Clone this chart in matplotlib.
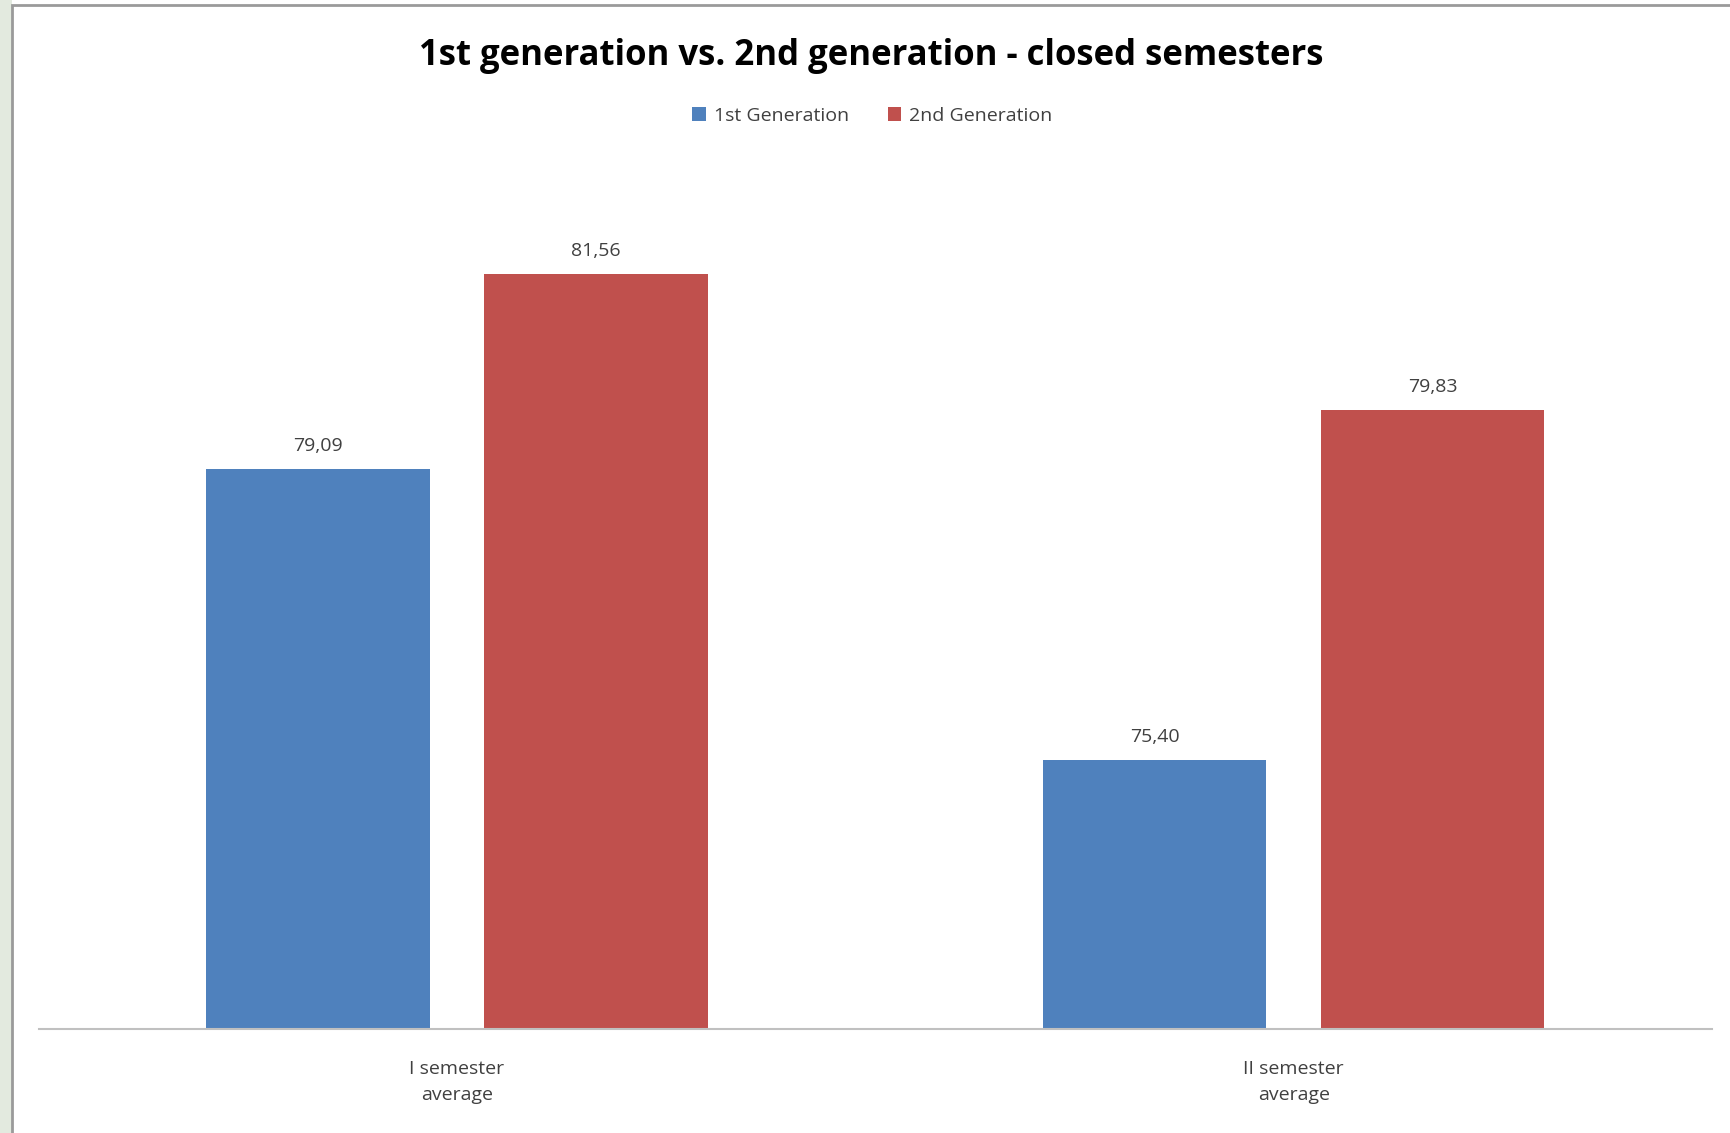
import matplotlib
matplotlib.use("Agg")
import matplotlib.pyplot as plt
import numpy as np
from matplotlib.patches import Rectangle

categories = ["I semester\naverage", "II semester\naverage"]
series_names = ["1st Generation", "2nd Generation"]
gen1 = [79.09, 75.40]
gen2 = [81.56, 79.83]
colors = ["#4F81BD", "#C0504D"]

plt.rcParams["font.family"] = ["Open Sans", "DejaVu Sans"]

W, H = 1731, 1133
fig = plt.figure(figsize=(W / 100, H / 100), dpi=100)

# slide background strip on the left and the chart frame
fig.patches.append(Rectangle((0, 0), 12 / W, 1, transform=fig.transFigure,
                             facecolor="#e3eadf", edgecolor="none", zorder=-2))
fig.patches.append(Rectangle((12 / W, -0.01), 1, 1 - 5 / H + 0.01, transform=fig.transFigure,
                             facecolor="white", edgecolor="#9a9a9a", linewidth=2, zorder=-1))

ax = fig.add_axes([38.6 / W, 1 - 1029 / H, (1712 - 38.6) / W, (1029 - 160) / H])
ax.set_facecolor("none")

x = np.arange(len(categories))
bw = 0.267
off = 0.166
for vals, c, name, dx in [(gen1, colors[0], series_names[0], -off),
                          (gen2, colors[1], series_names[1], off)]:
    bars = ax.bar(x + dx, np.array(vals) - 72, bw, bottom=72, color=c, label=name, zorder=2)
    for b, v in zip(bars, vals):
        ax.text(b.get_x() + b.get_width() / 2, v + 0.18, f"{v:.2f}".replace(".", ","),
                ha="center", va="bottom", fontsize=14, color="#404040")

ax.set_xlim(-0.5, 1.5)
ax.set_ylim(72, 83)
for s in ["top", "right", "left"]:
    ax.spines[s].set_visible(False)
ax.spines["bottom"].set_color("#c0c0c0")
ax.spines["bottom"].set_linewidth(1.5)
ax.set_yticks([])
ax.set_xticks(x)
ax.set_xticklabels(categories, fontsize=14, color="#404040", linespacing=1.6)
ax.tick_params(axis="x", length=0, pad=22)

fig.text(0.5 + 6 / W, 1 - 56 / H, "1st generation vs. 2nd generation - closed semesters",
         ha="center", va="center", fontsize=25, fontweight="bold", color="black")
fig.legend(loc="center", bbox_to_anchor=(0.5 + 7 / W, 1 - 116 / H), ncol=2, frameon=False,
           fontsize=14, handlelength=0.7, handleheight=0.7, handletextpad=0.4,
           columnspacing=2.0, labelcolor="#404040")

fig.savefig("out.png", dpi=100)
